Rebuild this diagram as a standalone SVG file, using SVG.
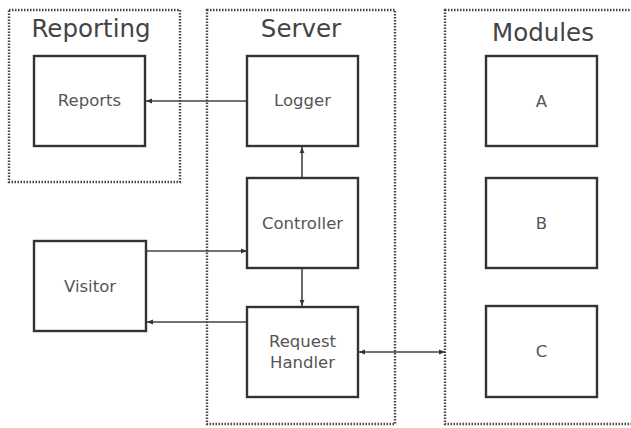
<svg xmlns="http://www.w3.org/2000/svg" width="631" height="428" viewBox="0 0 631 428">
<style>
.cluster{fill:none;stroke:#444;stroke-width:2.4;stroke-dasharray:1.5 1.5}
.node{fill:#fff;stroke:#333;stroke-width:2.4}
.ct{font-family:"DejaVu Sans",sans-serif;font-size:24.5px;fill:#444;text-anchor:middle}
.nt{font-family:"DejaVu Sans",sans-serif;font-size:16.5px;fill:#555;text-anchor:middle}
.edge{fill:none;stroke:#444;stroke-width:1.6}
</style>
<defs>
<marker id="ah" viewBox="0 0 10 10" refX="10" refY="5" markerWidth="6" markerHeight="6" orient="auto-start-reverse" markerUnits="userSpaceOnUse">
<path d="M0,1 L10,5 L0,9 z" fill="#333"/>
</marker>
</defs>
<rect width="631" height="428" fill="#fff"/>
<g id="cluster-reporting">
<rect class="cluster" x="9" y="10" width="171" height="172"/>
<text class="ct" x="91" y="37">Reporting</text>
</g>
<g id="cluster-server">
<rect class="cluster" x="207" y="10" width="188" height="414"/>
<text class="ct" x="301" y="37">Server</text>
</g>
<g id="cluster-modules">
<rect class="cluster" x="445" y="10" width="200" height="414"/>
<text class="ct" x="543" y="41">Modules</text>
</g>
<g id="connectors">
<line class="edge" x1="247" y1="101" x2="146" y2="101" marker-end="url(#ah)"/>
<line class="edge" x1="302" y1="178" x2="302" y2="147" marker-end="url(#ah)"/>
<line class="edge" x1="146" y1="251" x2="247" y2="251" marker-end="url(#ah)"/>
<line class="edge" x1="302" y1="268" x2="302" y2="306" marker-end="url(#ah)"/>
<line class="edge" x1="247" y1="322" x2="147" y2="322" marker-end="url(#ah)"/>
<line class="edge" x1="359" y1="352" x2="445" y2="352" marker-start="url(#ah)" marker-end="url(#ah)"/>
</g>
<g id="node-reports">
<rect class="node" x="34" y="56" width="111" height="90"/>
<text class="nt" x="89.5" y="106">Reports</text>
</g>
<g id="node-logger">
<rect class="node" x="247" y="56" width="111" height="90"/>
<text class="nt" x="302.5" y="106">Logger</text>
</g>
<g id="node-controller">
<rect class="node" x="247" y="178" width="111" height="90"/>
<text class="nt" x="302.5" y="229">Controller</text>
</g>
<g id="node-visitor">
<rect class="node" x="34" y="241" width="112" height="90"/>
<text class="nt" x="90" y="292">Visitor</text>
</g>
<g id="node-request-handler">
<rect class="node" x="247" y="307" width="111" height="90"/>
<text class="nt" x="302.5" y="347">Request</text>
<text class="nt" x="302.5" y="368">Handler</text>
</g>
<g id="node-a">
<rect class="node" x="486" y="56" width="111" height="90"/>
<text class="nt" x="541.5" y="107">A</text>
</g>
<g id="node-b">
<rect class="node" x="486" y="178" width="111" height="90"/>
<text class="nt" x="541.5" y="229">B</text>
</g>
<g id="node-c">
<rect class="node" x="486" y="306" width="111" height="91"/>
<text class="nt" x="541.5" y="357">C</text>
</g>
</svg>
